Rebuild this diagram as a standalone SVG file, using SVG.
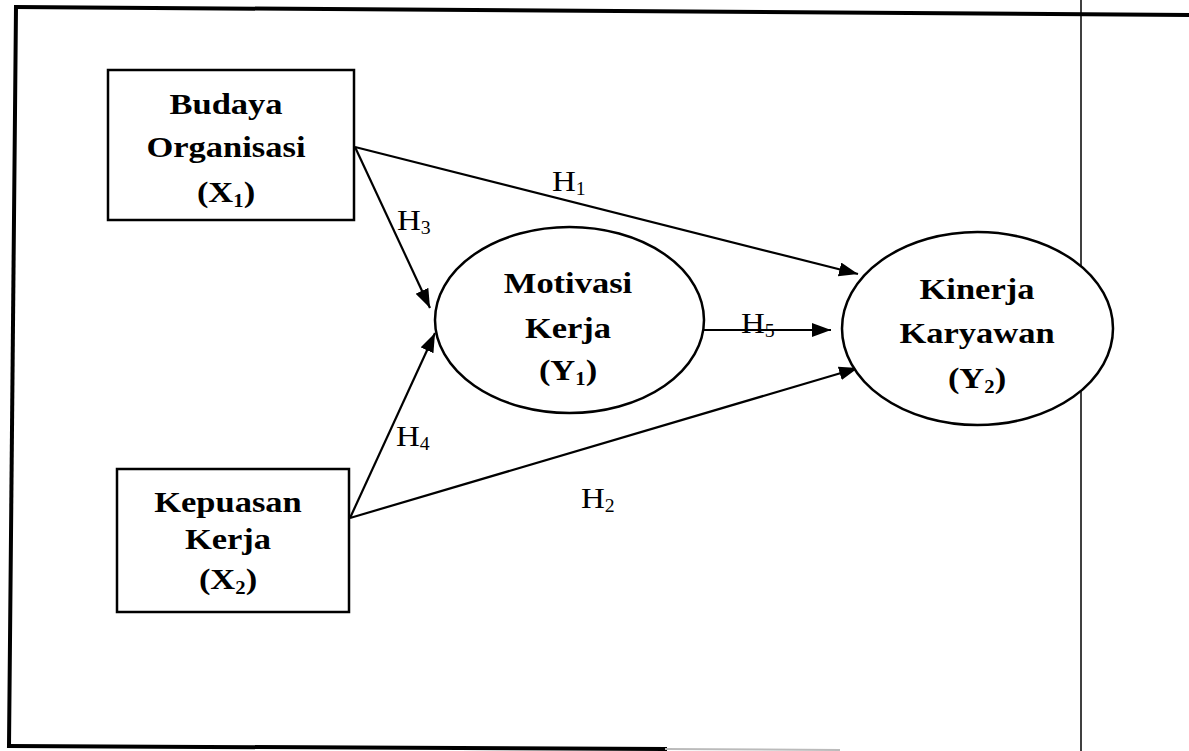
<svg xmlns="http://www.w3.org/2000/svg" width="1189" height="751" viewBox="0 0 1189 751">
<defs>
<style>
.frame{stroke:#000;fill:none;stroke-linecap:square}
.node{fill:#fff;stroke:#000;stroke-width:2.5}
.lbl{font-family:"Liberation Serif","Times New Roman",serif;font-weight:bold;font-size:30px;fill:#000;text-anchor:middle}
.h{font-family:"Liberation Serif","Times New Roman",serif;font-size:30px;fill:#000}
.sub{font-size:18px}
.conn{stroke:#000;stroke-width:2.2;fill:none}
</style>
<marker id="arr" markerUnits="userSpaceOnUse" markerWidth="22" markerHeight="16" refX="19" refY="7" orient="auto">
<path d="M0,0 L19,7 L0,14 Z" fill="#000"/>
</marker>
</defs>
<rect width="1189" height="751" fill="#fff"/>
<g id="frame">
<line class="frame" x1="16" y1="7" x2="1189" y2="15" stroke-width="4"/>
<line class="frame" x1="16" y1="7" x2="9" y2="746" stroke-width="4"/>
<line class="frame" x1="9" y1="746" x2="665" y2="749" stroke-width="4"/>
<line x1="665" y1="749" x2="840" y2="750" stroke="#bbb" stroke-width="2"/>
<line x1="1081" y1="0" x2="1081" y2="751" stroke="#000" stroke-width="1.5"/>
</g>
<g id="connectors">
<line class="conn" x1="355" y1="147" x2="858" y2="274" marker-end="url(#arr)"/>
<line class="conn" x1="355" y1="147" x2="430" y2="308" marker-end="url(#arr)"/>
<line class="conn" x1="350" y1="518" x2="435" y2="333" marker-end="url(#arr)"/>
<line class="conn" x1="350" y1="518" x2="858" y2="368" marker-end="url(#arr)"/>
<line class="conn" x1="704" y1="330" x2="831" y2="330" marker-end="url(#arr)"/>
<g transform="translate(552,0) scale(1.1,1)"><text class="h" x="0" y="191">H<tspan class="sub" dy="4">1</tspan></text></g>
<g transform="translate(397,0) scale(1.1,1)"><text class="h" x="0" y="230">H<tspan class="sub" dy="4">3</tspan></text></g>
<g transform="translate(396,0) scale(1.1,1)"><text class="h" x="0" y="446">H<tspan class="sub" dy="4">4</tspan></text></g>
<g transform="translate(581,0) scale(1.1,1)"><text class="h" x="0" y="508">H<tspan class="sub" dy="4">2</tspan></text></g>
<g transform="translate(741,0) scale(1.1,1)"><text class="h" x="0" y="333">H<tspan class="sub" dy="4">5</tspan></text></g>
</g>
<g id="budaya">
<rect class="node" x="108" y="70" width="246" height="150"/>
<g transform="translate(226,0) scale(1.15,1)">
<text class="lbl" x="0" y="114">Budaya</text>
<text class="lbl" x="0" y="157">Organisasi</text>
<text class="lbl" x="0" y="202">(X<tspan class="sub" dy="5">1</tspan><tspan dy="-5">)</tspan></text>
</g>
</g>
<g id="kepuasan">
<rect class="node" x="117" y="469" width="232" height="143"/>
<g transform="translate(228,0) scale(1.15,1)">
<text class="lbl" x="0" y="512">Kepuasan</text>
<text class="lbl" x="0" y="549">Kerja</text>
<text class="lbl" x="0" y="589">(X<tspan class="sub" dy="5">2</tspan><tspan dy="-5">)</tspan></text>
</g>
</g>
<g id="motivasi">
<ellipse class="node" cx="569.5" cy="320" rx="134.5" ry="93"/>
<g transform="translate(568,0) scale(1.15,1)">
<text class="lbl" x="0" y="293">Motivasi</text>
<text class="lbl" x="0" y="338">Kerja</text>
<text class="lbl" x="0" y="380">(Y<tspan class="sub" dy="5">1</tspan><tspan dy="-5">)</tspan></text>
</g>
</g>
<g id="kinerja">
<ellipse class="node" cx="977.5" cy="328.5" rx="135.5" ry="96.5"/>
<g transform="translate(977,0) scale(1.15,1)">
<text class="lbl" x="0" y="299">Kinerja</text>
<text class="lbl" x="0" y="343">Karyawan</text>
<text class="lbl" x="0" y="388">(Y<tspan class="sub" dy="5">2</tspan><tspan dy="-5">)</tspan></text>
</g>
</g>
</svg>
